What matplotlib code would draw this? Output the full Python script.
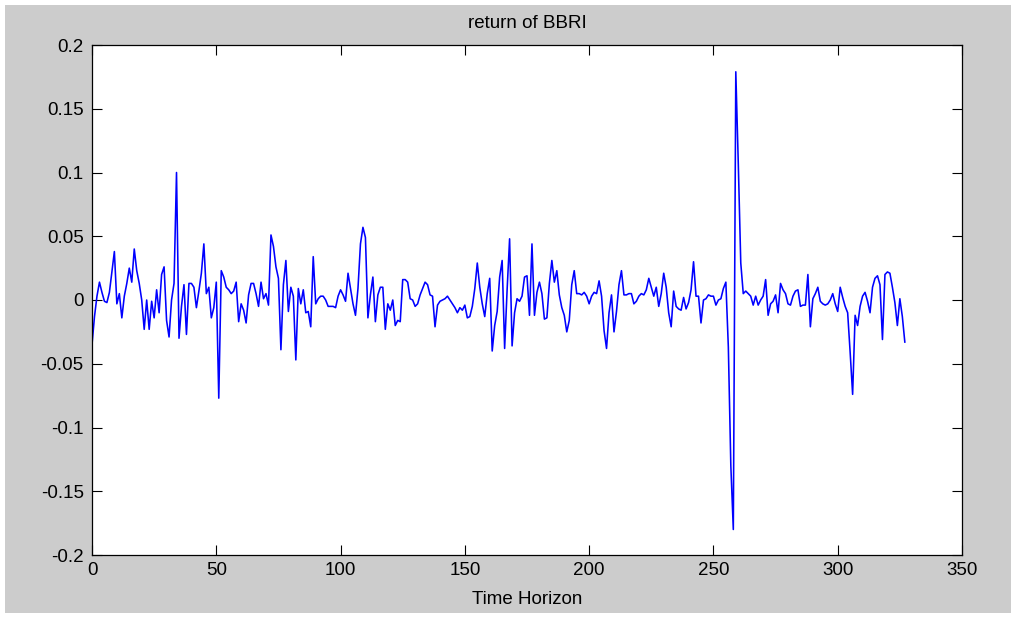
import matplotlib
matplotlib.use("Agg")
import matplotlib.pyplot as plt
from matplotlib.patches import Rectangle
import numpy as np

# return series, one value per time step (t = 0..327)
returns_a = [-0.035, -0.013, 0.003, 0.014, 0.006, -0.001, -0.002, 0.006, 0.022, 0.038,
             -0.003, 0.005, -0.014, 0.003, 0.013, 0.025, 0.014, 0.040, 0.023, 0.013,
             0.0, -0.023, 0.0, -0.023, -0.001, -0.014, 0.008, -0.010, 0.020, 0.026,
             -0.016, -0.029, 0.0, 0.013, 0.100, -0.030, -0.005, 0.012, -0.027, 0.013]
returns_b = [0.013, 0.010, -0.006, 0.007, 0.021, 0.044, 0.005, 0.010, -0.014, -0.006,
             0.014, -0.077, 0.023, 0.018, 0.010, 0.008, 0.005, 0.007, 0.014, -0.017,
             -0.003, -0.008, -0.018, 0.004, 0.013, 0.013, 0.005, -0.005, 0.014, 0.001,
             0.005, -0.004, 0.051, 0.042, 0.026, 0.017, -0.039, 0.012, 0.031, -0.009,
             0.010]
returns_c = [0.003, -0.047, 0.009, -0.003, 0.008, -0.010, -0.009, -0.021, 0.034, -0.003,
             0.001, 0.003, 0.003, 0.0, -0.005, -0.005, -0.005, -0.006, 0.003, 0.008,
             0.004, -0.001, 0.021, 0.009, -0.003, -0.012, 0.009, 0.044, 0.057, 0.049,
             -0.014, 0.004, 0.018, -0.017, 0.004, 0.010, 0.010, -0.023, -0.003, -0.008]
returns_d = [0.0, -0.020, -0.016, -0.017, 0.016, 0.016, 0.014, 0.001, 0.0, -0.005,
             -0.003, 0.004, 0.009, 0.014, 0.012, 0.004, 0.003, -0.021, -0.004, -0.001,
             0.0, 0.001, 0.003, 0.0, -0.003, -0.006, -0.010, -0.006, -0.008, -0.004,
             -0.014, -0.013, -0.005, 0.009, 0.029, 0.010, -0.003, -0.013, 0.005, 0.017,
             -0.040]
returns_e = [-0.020, -0.009, 0.018, 0.031, -0.038, 0.008, 0.048, -0.036, -0.010, 0.001,
             -0.001, 0.003, 0.018, 0.019, -0.012, 0.044, -0.012, 0.006, 0.014, 0.005,
             -0.015, -0.014, 0.013, 0.031, 0.014, 0.023, 0.004, -0.006, -0.012, -0.025,
             -0.016, 0.012, 0.023, 0.005, 0.005, 0.004, 0.006, 0.003, -0.003, 0.003]
returns_f = [0.006, 0.005, 0.015, 0.003, -0.024, -0.038, -0.010, 0.004, -0.025, -0.009,
             0.012, 0.023, 0.004, 0.004, 0.005, 0.005, -0.003, -0.001, 0.003, 0.005,
             0.004, 0.008, 0.017, 0.010, 0.003, 0.010, -0.005, 0.005, 0.021, 0.010,
             -0.010, -0.021, 0.007, -0.005, -0.007, -0.008, 0.002, -0.007, -0.002]
returns_g = [0.008, 0.030, 0.003, 0.003, -0.018, 0.0, 0.001, 0.004, 0.003, 0.003,
             -0.004, 0.0, 0.001, 0.009, 0.014, -0.037, -0.130, -0.180, 0.179, 0.107,
             0.029, 0.005, 0.007, 0.005, 0.003, -0.004, 0.003, -0.004, 0.0, 0.003,
             0.016, -0.012, -0.003, -0.001, 0.004, -0.010, 0.013, 0.008, 0.005, -0.003,
             -0.004]
returns_h = [0.003, 0.007, 0.008, -0.005, -0.004, -0.004, 0.020, -0.021, 0.001, 0.005,
             0.010, -0.001, -0.003, -0.004, -0.003, 0.0, 0.005, -0.003, -0.009, 0.010,
             0.002, -0.005, -0.010, -0.041, -0.074, -0.012, -0.020, -0.005, 0.003, 0.006,
             -0.001, -0.010, 0.010, 0.017, 0.019, 0.012, -0.031, 0.020, 0.022, 0.021,
             0.010, -0.002, -0.020, 0.001, -0.013, -0.033]

returns = (returns_a + returns_b + returns_c + returns_d
           + returns_e + returns_f + returns_g + returns_h)
t = np.arange(len(returns))

x_ticks = [0, 50, 100, 150, 200, 250, 300, 350]
y_ticks = [-0.2, -0.15, -0.1, -0.05, 0, 0.05, 0.1, 0.15, 0.2]
y_labels = ["-0.2", "-0.15", "-0.1", "-0.05", "0", "0.05", "0.1", "0.15", "0.2"]

plt.rcParams['font.family'] = ['Liberation Sans', 'DejaVu Sans']

W, H = 1016, 618
fig = plt.figure(figsize=(W / 100, H / 100), dpi=100, facecolor='white')
# gray matlab-style figure panel inside a thin white border
fig.patches.append(Rectangle((5 / W, 5 / H), 1006 / W, 608 / H,
                             transform=fig.transFigure, facecolor='#cccccc',
                             edgecolor='none', zorder=-10))

ax = fig.add_axes([92 / W, 1 - 555 / H, 870 / W, 510 / H])
ax.plot(t, returns, color='#0000ff', lw=1.15)

ax.set_xlim(0, 350)
ax.set_ylim(-0.2, 0.2)
ax.set_xticks(x_ticks)
ax.set_yticks(y_ticks)
ax.set_yticklabels(y_labels)
ax.tick_params(direction='in', length=7, width=0.8, top=True, right=True,
               labelsize=13.5, colors='black')
ax.tick_params(axis='x', pad=5)
ax.tick_params(axis='y', pad=6)
for s in ax.spines.values():
    s.set_linewidth(0.9)

ax.set_title("return of BBRI", fontsize=13.5, pad=12)
ax.set_xlabel("Time Horizon", fontsize=13.5, labelpad=9)

fig.savefig("out.png", dpi=100, facecolor=fig.get_facecolor())
